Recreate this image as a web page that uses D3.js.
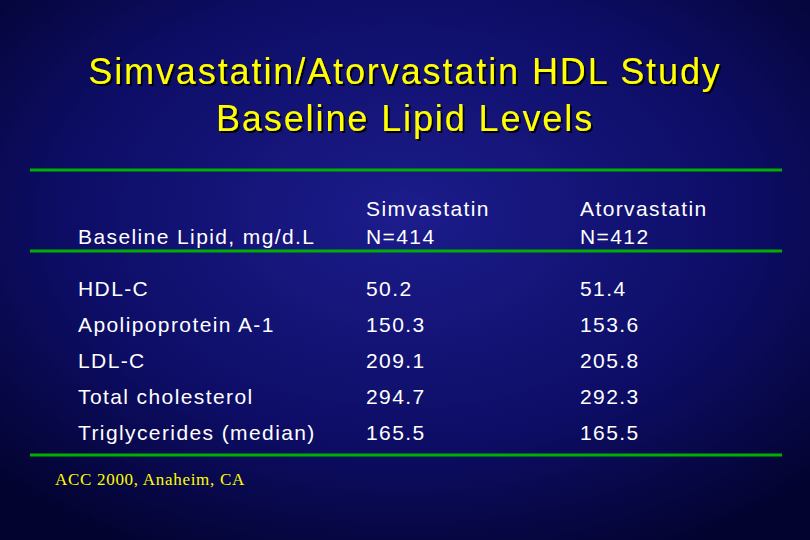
<!DOCTYPE html>
<html><head><meta charset="utf-8">
<script src="https://cdn.jsdelivr.net/npm/d3@7"></script>
<style>html,body{margin:0;padding:0;background:#000;}svg{display:block;}</style>
</head><body>
<script>
const titleLines = ["Simvastatin/Atorvastatin HDL Study", "Baseline Lipid Levels"];
const headerCols = [["Baseline Lipid, mg/d.L"], ["Simvastatin", "N=414"], ["Atorvastatin", "N=412"]];
const lipids = ["HDL-C", "Apolipoprotein A-1", "LDL-C", "Total cholesterol", "Triglycerides (median)"];
const simvastatin = ["50.2", "150.3", "209.1", "294.7", "165.5"];
const atorvastatin = ["51.4", "153.6", "205.8", "292.3", "165.5"];
const footnote = "ACC 2000, Anaheim, CA";

const W = 810, H = 540;
const svg = d3.select("body").append("svg").attr("width", W).attr("height", H);
const defs = svg.append("defs");
const g = defs.append("radialGradient").attr("id","bg").attr("cx","50%").attr("cy","40%").attr("r","70%");
g.append("stop").attr("offset","0%").attr("stop-color","#1c1c8c");
g.append("stop").attr("offset","60%").attr("stop-color","#0d0d66");
g.append("stop").attr("offset","100%").attr("stop-color","#030330");
svg.append("rect").attr("width",W).attr("height",H).attr("fill","url(#bg)");

const f = defs.append("filter").attr("id","sh");
f.append("feDropShadow").attr("dx",2).attr("dy",2).attr("stdDeviation",0.5).attr("flood-color","#000").attr("flood-opacity",0.9);

svg.selectAll(".title").data(titleLines).join("text")
  .attr("x", 405).attr("y", (d,i)=>84+i*47).attr("text-anchor","middle")
  .attr("font-family","Liberation Sans, Arial, sans-serif").attr("font-size",36)
  .attr("letter-spacing",1.9)
  .attr("fill","#ffff00").attr("filter","url(#sh)").text(d=>d);

const colX = d3.scaleOrdinal().domain([0,1,2]).range([78, 366, 580]);
const font = "Liberation Sans, Arial, sans-serif";

[170, 251, 455].forEach(y=>{
  svg.append("line").attr("x1",30).attr("x2",782).attr("y1",y).attr("y2",y)
    .attr("stroke","#00b000").attr("stroke-width",3);
});

headerCols.forEach((lines,c)=>{
  lines.forEach((t,i)=>{
    svg.append("text").attr("x",colX(c)).attr("y", 244 - (lines.length-1-i)*28)
      .attr("font-family",font).attr("font-size",21).attr("letter-spacing",1.4).attr("fill","#fff").text(t);
  });
});

const y = d3.scaleBand().domain(d3.range(lipids.length)).range([270, 450]);
const cols = [lipids, simvastatin, atorvastatin];
cols.forEach((arr,c)=>{
  svg.selectAll(".c"+c).data(arr).join("text")
    .attr("x", colX(c)).attr("y",(d,i)=>y(i)+y.bandwidth()/2+8)
    .attr("font-family",font).attr("font-size",21).attr("letter-spacing",1.4).attr("fill","#fff").text(d=>d);
});

svg.append("text").attr("x",55).attr("y",485)
  .attr("font-family","Liberation Serif, Times New Roman, serif").attr("font-size",17)
  .attr("letter-spacing",0.7)
  .attr("fill","#ffff00").text(footnote);
</script>
</body></html>
